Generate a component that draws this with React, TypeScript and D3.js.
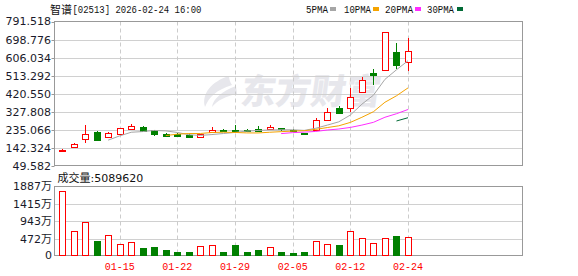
import React from 'react';
import * as d3 from 'd3';

// ---- data ----
const dates = ['01-08','01-09','01-12','01-13','01-14','01-15','01-16','01-19','01-20','01-21','01-22','01-23','01-26','01-27','01-28','01-29','01-30','02-02','02-03','02-04','02-05','02-06','02-09','02-10','02-11','02-12','02-13','02-16','02-20','02-23','02-24'];
const opens = [125,146,187,226,201,216,242,249,235,212,214,211,199,226,236,236,235,237,238,243,236,218,234,288,348,347,432,527,545,633,586];
const highs = [136,166,261,231,226,246,266,256,236,220,220,212,216,250,237,258,242,253,261,244,237,221,295,346,358,450,504,548,738,681,707];
const lows = [120,145,170,180,195,209,233,226,203,204,203,194,192,225,226,231,226,228,236,229,230,210,232,286,318,327,422,467,543,546,539];
const closes = [134,161,213,185,218,244,254,231,214,206,204,196,213,236,233,232,230,229,249,238,232,214,284,329,323,406,492,515,736,569,638];
const volumes = [1743,672,917,408,563,327,400,218,245,163,109,109,290,318,109,300,109,163,245,109,82,109,427,327,300,672,508,354,508,545,509]; // 万股

const priceTicks = [49.582,142.324,235.066,327.808,420.550,513.292,606.034,698.776,791.518];
const volTicks = [0,472,943,1415,1887];
const volTickLabels = ['0','472万','943万','1415万','1887万'];
const xLabelDates = ['01-15','01-22','01-29','02-05','02-12','02-24'];
const maPeriods = [5,10,20,30];
const maNames = ['5PMA','10PMA','20PMA','30PMA'];
const title = '智谱';
const titleRest = '[02513] 2026-02-24 16:00';
const volTitle = '成交量:5089620';

// ---- styles / layout ----
const RED = '#ff0000';
const GREEN = '#008000';
const maColors = ['#a6a6a6','#f5a300','#ff2cff','#006a35'];
const legendLayout = [
  { tx: 306, tl: 22, sx: 330 },
  { tx: 344, tl: 27, sx: 373 },
  { tx: 385, tl: 28, sx: 415 },
  { tx: 427, tl: 27, sx: 457 },
];

function sma(values: number[], n: number): (number | null)[] {
  return values.map((_, i) => {
    if (i < n - 1) return null;
    return d3.sum(values.slice(i - n + 1, i + 1)) / n;
  });
}

const crisp = (v: number) => Math.round(v) + 0.5;

export default function App() {
  const W = 578, H = 276;
  const L = 54.5, R = 522.5;
  const T = 21.5, B = 165.5;
  const VT = 186.5, VB = 255.5;

  const x = d3.scalePoint<string>().domain(dates).range([62, 408]);
  const y = d3.scaleLinear().domain([49.582, 791.518]).range([166, 21.5]);
  const vy = d3.scaleLinear().domain([0, 1887]).range([256.5, 186]);

  const cx = (i: number) => Math.round(x(dates[i]) as number) + 0.5;

  const mas = maPeriods.map(p => sma(closes, p));
  const line = d3.line<number | null>()
    .defined(d => d != null)
    .x((_, i) => x(dates[i]) as number)
    .y(d => y(d as number));

  const font = 'DejaVu Sans, "Noto Sans CJK SC", sans-serif';
  const mono = '"Liberation Mono", "Noto Sans CJK SC", monospace';

  return (
    <div style={{ position: 'absolute', left: 0, top: 0 }}>
      <svg width={W} height={H} viewBox={`0 0 ${W} ${H}`} style={{ display: 'block', background: '#fff' }}>
        {/* watermark */}
        <g fill="#e7e7ec">
          <path d="M229,76 C212,81 201,94 205,107 C209,97 216,90 232,85 C230,82 229,79 229,76 Z" />
          <path d="M236,86 C222,91 213,99 212,107 C218,100 226,96 237,94 Z" />
          <text x={240} y={104} fontSize={35} fontWeight={900} fontFamily='"Noto Sans CJK SC", sans-serif' transform="skewX(-8) translate(14,0)">东方财富</text>
        </g>

        {/* main grid */}
        {priceTicks.slice(1, -1).map(t => (
          <line key={'pg' + t} x1={L} x2={R} y1={crisp(y(t))} y2={crisp(y(t))} stroke="#d0d0d0" strokeWidth={1} />
        ))}
        {volTicks.slice(1, -1).map(t => (
          <line key={'vg' + t} x1={L} x2={R} y1={crisp(vy(t))} y2={crisp(vy(t))} stroke="#d0d0d0" strokeWidth={1} />
        ))}
        {xLabelDates.map(d => {
          const xx = Math.round(x(d) as number) + 0.5;
          return (
            <g key={'xg' + d}>
              <line x1={xx} x2={xx} y1={T} y2={B} stroke="#cccccc" strokeDasharray="4,3" />
              <line x1={xx} x2={xx} y1={VT} y2={VB} stroke="#cccccc" strokeDasharray="4,3" />
            </g>
          );
        })}

        {/* borders */}
        <rect x={L} y={T} width={R - L} height={B - T} fill="none" stroke="#999" strokeWidth={1} />
        <rect x={L} y={VT} width={R - L} height={VB - VT} fill="none" stroke="#999" strokeWidth={1} />

        {/* y ticks + labels */}
        {priceTicks.map(t => (
          <g key={'pt' + t}>
            <line x1={L - 3} x2={L} y1={crisp(y(t))} y2={crisp(y(t))} stroke="#999" />
            <text x={51} y={y(t)} dy="0.36em" textAnchor="end" fontSize={11} fontFamily={font} fill="#1a1a2a">{t.toFixed(3)}</text>
          </g>
        ))}
        {volTicks.map((t, i) => (
          <text key={'vt' + t} x={52} y={i === 0 ? 255 : vy(t)} dy="0.36em" textAnchor="end" fontSize={11} fontFamily={font} fill="#1a1a2a">{volTickLabels[i]}</text>
        ))}

        {/* candles */}
        {dates.map((d, i) => {
          const c = cx(i);
          const up = closes[i] >= opens[i];
          const col = up ? RED : GREEN;
          let bt = crisp(Math.min(y(opens[i]), y(closes[i])));
          let bb = crisp(Math.max(y(opens[i]), y(closes[i])));
          if (bb - bt < 1) bb = bt + 1;
          return (
            <g key={'c' + d}>
              <line x1={c} x2={c} y1={Math.round(y(highs[i]))} y2={Math.round(y(lows[i]))} stroke={col} />
              <rect x={c - 3} y={bt} width={6} height={bb - bt} fill={up ? '#fff' : col} stroke={col} />
            </g>
          );
        })}

        {/* moving averages */}
        {mas.map((m, k) => (
          <path key={'ma' + k} d={line(m) || ''} fill="none" stroke={maColors[k]} strokeWidth={1} />
        ))}

        {/* volume bars */}
        {dates.map((d, i) => {
          const c = cx(i);
          const up = i === 0 ? closes[i] >= opens[i] : closes[i] >= closes[i - 1];
          const col = up ? RED : GREEN;
          const top = crisp(vy(volumes[i]));
          return (
            <rect key={'v' + d} x={c - 3} y={top} width={6} height={VB - top} fill={up ? '#fff' : col} stroke={col} />
          );
        })}

        {/* x labels */}
        {xLabelDates.map(d => (
          <text key={'xl' + d} x={x(d) as number} y={270} textAnchor="middle" fontSize={10} fontFamily={mono} fill={RED}>{d}</text>
        ))}

        {/* header */}
        <text x={50} y={14} fontSize={11} fontFamily='"Noto Sans CJK SC", sans-serif' fill="#111">{title}</text>
        <text x={72.5} y={13} fontSize={10.5} fontFamily={mono} fill="#111" textLength={129} lengthAdjust="spacingAndGlyphs">{titleRest}</text>
        {maNames.map((n, k) => (
          <g key={'lg' + n}>
            <text x={legendLayout[k].tx} y={13} fontSize={10.5} fontFamily={mono} fill="#111" textLength={legendLayout[k].tl} lengthAdjust="spacingAndGlyphs">{n}</text>
            <rect x={legendLayout[k].sx} y={7} width={6} height={4} fill={maColors[k]} />
          </g>
        ))}

        {/* volume title */}
        <text x={57.5} y={182} fontSize={11} fontFamily={font} fill="#111">{volTitle}</text>
      </svg>
    </div>
  );
}
